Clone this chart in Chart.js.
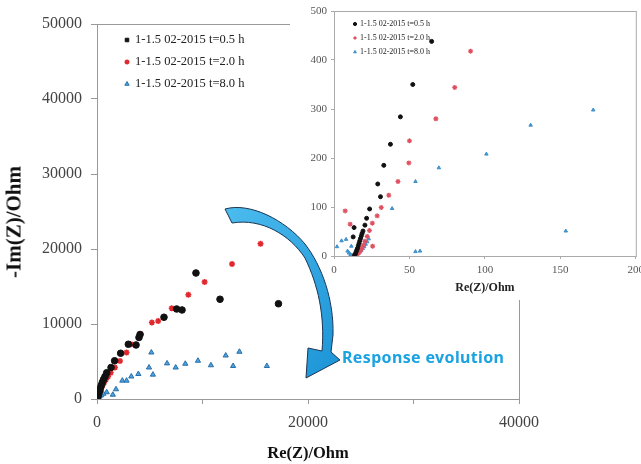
<!DOCTYPE html>
<html>
<head>
<meta charset="utf-8">
<script src="https://cdn.jsdelivr.net/npm/chart.js@4.4.1/dist/chart.umd.min.js"></script>
<style>
html, body { margin: 0; padding: 0; background: #fff; }
#wrap { position: relative; width: 641px; height: 464px; overflow: hidden; }
#main { position: absolute; left: 0; top: 0; }
#inset { position: absolute; left: 290px; top: 0; background: #fff; }
#arrow { position: absolute; left: 0; top: 0; }
#note { position: absolute; left: 342px; top: 346px; font: bold 16px "Noto Sans"; letter-spacing: 0.35px; color: #1aa3e0; white-space: nowrap; }
#ytitle { position: absolute; left: 14px; top: 222px; transform: translate(-50%, -50%) rotate(-90deg); font: bold 21px "Liberation Serif"; color: #111; white-space: nowrap; }
</style>
</head>
<body>
<div id="wrap">
  <canvas id="main" width="641" height="464"></canvas>
  <div id="ytitle">-Im(Z)/Ohm</div>
  <canvas id="inset" width="351" height="300"></canvas>
  <svg id="arrow" width="641" height="464">
    <defs>
      <linearGradient id="g" x1="0" y1="0" x2="1" y2="1">
        <stop offset="0" stop-color="#4cbcee"/>
        <stop offset="1" stop-color="#1b93d6"/>
      </linearGradient>
    </defs>
    <path d="M225,209 C250,202 285,220 305,244 C322,266 334,300 333,335 L331,352 L340,360 L306,378 L308,348 L322,351 C325,315 318,285 305,258 C290,235 262,218 232,223 Z"
          fill="url(#g)" stroke="#1c3553" stroke-width="1"/>
  </svg>
  <div id="note">Response evolution</div>
</div>
<script>
// main chart, Ohm
const re05 = [9380, 11660, 17200, 8060, 7550, 6350, 3980, 4080, 3700, 2970, 2240, 1670, 1330, 920, 760, 620, 500, 400, 310, 230, 160, 100, 50, 20];
const im05 = [16800, 13300, 12700, 11870, 12000, 10900, 8200, 8600, 7200, 7300, 6100, 5100, 4200, 3500, 3000, 2600, 2200, 1800, 1400, 1050, 700, 420, 200, 60];
const re20 = [15500, 12800, 10200, 8660, 7080, 5800, 5200, 4140, 3200, 2800, 2180, 1700, 1300, 1050, 850, 680, 540, 420, 320, 230, 150, 90, 40, 10];
const im20 = [20700, 18000, 15600, 13900, 12100, 10400, 10200, 8670, 7300, 6200, 5070, 4200, 3500, 3000, 2600, 2200, 1850, 1500, 1200, 900, 600, 350, 150, 40];
const re80 = [13500, 12200, 12900, 16100, 10800, 9570, 8370, 7460, 6640, 5150, 4930, 5300, 3920, 3250, 2400, 2800, 1800, 1500, 920, 600, 400, 250, 150, 80, 30];
const im80 = [6300, 5800, 4400, 4400, 4500, 5100, 4700, 4200, 4750, 6200, 4200, 3250, 3330, 3000, 2450, 2450, 1300, 570, 900, 700, 500, 350, 200, 100, 30];

// inset chart, Ohm
const inRe05 = [52.2, 44, 37.4, 33, 29, 30.8, 23.6, 21.6, 20.5, 13.3, 12.7, 19.2, 64.7, 18.6, 18.1, 17.6, 17.1, 16.6, 16.1, 15.6, 15.1, 14.6, 14.1, 13.6];
const inIm05 = [350, 284, 228, 185, 147, 121, 96, 77, 63, 58, 39, 51, 438, 46, 41, 36, 31, 26, 21, 16, 12, 8, 4, 1];
const inRe20 = [90.5, 80, 67.5, 50, 49.6, 42.4, 36.3, 31.3, 28.6, 25.4, 7.4, 10.7, 25.6, 23.5, 22, 20.5, 19.5, 18.5, 17.5, 16.5, 15.5, 14.5, 13.5];
const inIm20 = [418, 344, 280, 235, 190, 152, 124, 99, 82, 67, 92, 65, 20, 52, 40, 30, 22, 16, 11, 7, 4, 2, 1];
const inRe80 = [171.8, 130.3, 101, 69.5, 54, 38.5, 153.6, 54, 57, 2, 5, 8, 11.5, 9, 10, 11, 12, 13, 14, 15, 16, 17, 18, 19, 20, 21, 22, 23];
const inIm80 = [298, 267, 208, 180, 152, 97, 51, 9, 10, 19, 31, 34, 20, 10, 6, 3, 1.5, 1, 1.5, 3, 5, 8, 11, 15, 19, 24, 29, 35];

const seriesNames = ['1-1.5 02-2015 t=0.5 h', '1-1.5 02-2015 t=2.0 h', '1-1.5 02-2015 t=8.0 h'];
const mainYTicks = [0, 10000, 20000, 30000, 40000, 50000];
const mainXTicks = [0, 20000, 40000];

const pts = (xs, ys) => xs.map((x, i) => ({ x: x, y: ys[i] }));

// legend drawn inside the plot area
const legendBox = {
    id: 'legendBox',
    afterDatasetsDraw(chart, args, opts) {
        const ctx = chart.ctx;
        ctx.save();
        ctx.font = opts.font;
        ctx.textBaseline = 'middle';
        chart.data.datasets.forEach((ds, i) => {
            const y = opts.y + i * opts.gap;
            ctx.fillStyle = ds.backgroundColor;
            ctx.strokeStyle = ds.borderColor;
            ctx.lineWidth = ds.borderWidth;
            Chart.helpers.drawPoint(ctx, { pointStyle: ds.legendStyle || ds.pointStyle, radius: opts.r, borderWidth: ds.borderWidth, rotation: 0 }, opts.x, y);
            ctx.fillStyle = '#222';
            ctx.fillText(ds.label, opts.x + opts.dx, y);
        });
        ctx.restore();
    }
};

// box around the plot
const frameBox = {
    id: 'frameBox',
    beforeDatasetsDraw(chart, args, opts) {
        const a = chart.chartArea;
        const ctx = chart.ctx;
        ctx.save();
        ctx.strokeStyle = opts.color;
        ctx.lineWidth = 1;
        ctx.strokeRect(a.left + 0.5, a.top + 0.5, a.right - a.left, a.bottom - a.top);
        ctx.restore();
    }
};

const serif = 'Liberation Serif';

const mainChart = new Chart(document.getElementById('main'), {
    type: 'scatter',
    data: {
        datasets: [
            { label: seriesNames[0], data: pts(re05, im05), pointStyle: 'circle', legendStyle: 'rect', pointRadius: 3.3, backgroundColor: '#111', borderColor: '#111', borderWidth: 1 },
            { label: seriesNames[1], data: pts(re20, im20), pointStyle: 'star', pointRadius: 3, backgroundColor: '#e0282e', borderColor: '#e0282e', borderWidth: 1.5 },
            { label: seriesNames[2], data: pts(re80, im80), pointStyle: 'triangle', pointRadius: 3, backgroundColor: '#4aa3df', borderColor: '#2a6fa8', borderWidth: 1 }
        ]
    },
    options: {
        responsive: false,
        animation: false,
        layout: { padding: { top: 24, right: 122, left: 0, bottom: 0 } },
        plugins: {
            legend: { display: false },
            tooltip: { enabled: false },
            legendBox: { x: 127, y: 40, gap: 22, dx: 8, r: 2.5, font: '12.5px "Liberation Serif"' },
            frameBox: { color: '#999' }
        },
        scales: {
            x: {
                type: 'linear', min: 0, max: 40000,
                afterBuildTicks: s => { s.ticks = [0, 10000, 20000, 30000, 40000].map(v => ({ value: v })); },
                ticks: { autoSkip: false, maxRotation: 0, padding: 9, color: '#444', font: { family: serif, size: 16 },
                    callback: v => mainXTicks.includes(v) ? String(v) : '' },
                grid: { drawOnChartArea: false, tickLength: 5, color: '#999' },
                border: { color: '#999' },
                title: { display: true, text: 'Re(Z)/Ohm', color: '#111', font: { family: serif, size: 16.5, weight: 'bold' }, padding: { top: 0, bottom: 0 } },
                afterFit: s => { s.height = 65; }
            },
            y: {
                type: 'linear', min: 0, max: 50000,
                afterBuildTicks: s => { s.ticks = mainYTicks.map(v => ({ value: v })); },
                ticks: { autoSkip: false, padding: 9, color: '#444', font: { family: serif, size: 16 }, callback: v => String(v) },
                grid: { drawOnChartArea: false, tickLength: 6, color: '#999' },
                border: { color: '#999' },
                afterFit: s => { s.width = 97; }
            }
        }
    },
    plugins: [legendBox, frameBox]
});

const insetChart = new Chart(document.getElementById('inset'), {
    type: 'scatter',
    data: {
        datasets: [
            { label: seriesNames[0], data: pts(inRe05, inIm05), pointStyle: 'circle', pointRadius: 2, backgroundColor: '#111', borderColor: '#111', borderWidth: 1 },
            { label: seriesNames[1], data: pts(inRe20, inIm20), pointStyle: 'star', pointRadius: 2.5, backgroundColor: '#e05060', borderColor: '#e05060', borderWidth: 1.2 },
            { label: seriesNames[2], data: pts(inRe80, inIm80), pointStyle: 'triangle', pointRadius: 2, backgroundColor: '#4a9ad2', borderColor: '#3d8fc8', borderWidth: 1 }
        ]
    },
    options: {
        responsive: false,
        animation: false,
        layout: { padding: { top: 11, right: 3, left: 0, bottom: 0 } },
        plugins: {
            legend: { display: false },
            tooltip: { enabled: false },
            legendBox: { x: 65, y: 24, gap: 14, dx: 5, r: 1.6, font: '8px "Liberation Serif"' },
            frameBox: { color: '#aaa' }
        },
        scales: {
            x: {
                type: 'linear', min: 0, max: 200,
                ticks: { stepSize: 50, autoSkip: false, maxRotation: 0, padding: 5, color: '#555', font: { family: serif, size: 11 } },
                grid: { drawOnChartArea: false, tickLength: 3, color: '#aaa' },
                border: { color: '#aaa' },
                title: { display: true, text: 'Re(Z)/Ohm', color: '#222', font: { family: serif, size: 12, weight: 'bold' }, padding: { top: 0, bottom: 5 } },
                afterFit: s => { s.height = 44; s.paddingLeft = 0; s.paddingRight = 0; }
            },
            y: {
                type: 'linear', min: 0, max: 500,
                ticks: { stepSize: 100, autoSkip: false, padding: 4, color: '#555', font: { family: serif, size: 11 } },
                grid: { drawOnChartArea: false, tickLength: 3, color: '#aaa' },
                border: { color: '#aaa' },
                afterFit: s => { s.width = 44; }
            }
        }
    },
    plugins: [legendBox, frameBox]
});
</script>
</body>
</html>
